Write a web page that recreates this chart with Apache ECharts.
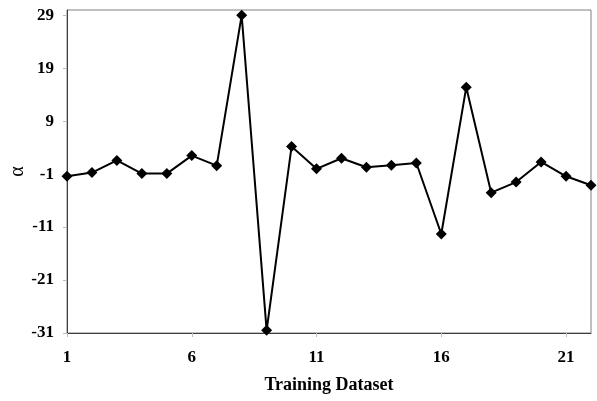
<!DOCTYPE html>
<html>
<head>
<meta charset="utf-8">
<script src="https://cdn.jsdelivr.net/npm/echarts@6/dist/echarts.min.js"></script>
<style>
html,body{margin:0;padding:0;background:#fff;}
#chart{width:597px;height:401px;}
</style>
</head>
<body>
<div id="chart"></div>
<script>
// Training dataset index and the fitted alpha value for each
const datasetIndex = [1,2,3,4,5,6,7,8,9,10,11,12,13,14,15,16,17,18,19,20,21,22];
const alphaValues = [-1.4,-0.7,1.6,-0.9,-0.9,2.5,0.6,29,-30.5,4.2,0,2.0,0.3,0.7,1.1,-12.3,15.4,-4.5,-2.5,1.3,-1.4,-3.1];
const yTicks = [-31,-21,-11,-1,9,19,29];

const points = datasetIndex.map((x, i) => [x, alphaValues[i]]);
const font = '"Liberation Serif", "Times New Roman", serif';

const chart = echarts.init(document.getElementById('chart'));
chart.setOption({
  animation: false,
  grid: {left: 67, right: 6, top: 10, bottom: 68, show: true, borderColor: '#808080', borderWidth: 1,
         containLabel: false, outerBoundsMode: 'none'},
  xAxis: {
    type: 'value', min: 1, max: 22, interval: 5,
    name: 'Training Dataset', nameLocation: 'middle', nameGap: 43,
    nameTextStyle: {fontFamily: font, fontWeight: 'bold', fontSize: 18, color: '#000'},
    axisLine: {onZero: false, lineStyle: {color: '#404040', width: 1}},
    axisTick: {show: true, length: 4, lineStyle: {color: '#bbb'}},
    axisLabel: {fontFamily: font, fontWeight: 'bold', fontSize: 17, color: '#000', margin: 16, showMaxLabel: false},
    splitLine: {show: false}
  },
  yAxis: {
    type: 'value', min: yTicks[0], max: 30, interval: 10,
    name: 'α', nameLocation: 'middle', nameGap: 39, nameRotate: 90, nameMoveOverlap: false,
    nameTextStyle: {fontFamily: font, fontSize: 20, color: '#000'},
    axisLine: {onZero: false, lineStyle: {color: '#404040', width: 1}},
    axisTick: {show: true, length: 4, lineStyle: {color: '#bbb'}},
    axisLabel: {fontFamily: font, fontWeight: 'bold', fontSize: 17, color: '#000', margin: 13, showMaxLabel: false},
    splitLine: {show: false}
  },
  series: [{
    type: 'line',
    data: points,
    symbol: 'diamond',
    symbolSize: 11,
    itemStyle: {color: '#000'},
    lineStyle: {color: '#000', width: 2}
  }]
});
</script>
</body>
</html>
